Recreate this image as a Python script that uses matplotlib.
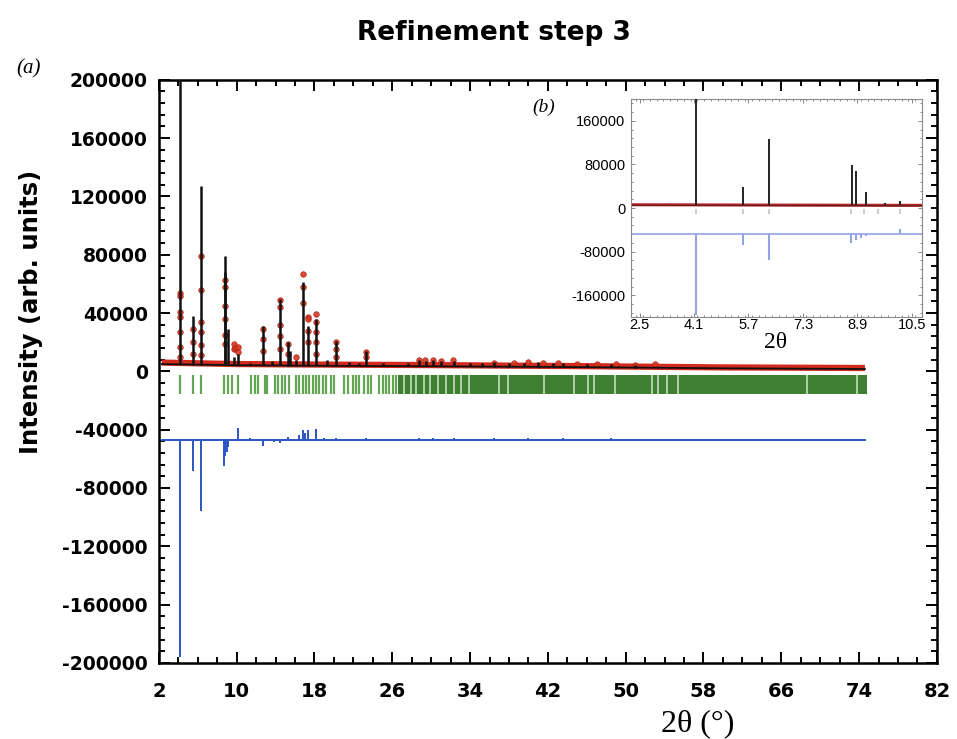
import numpy as np
import matplotlib.pyplot as plt
from matplotlib.ticker import FixedLocator, MultipleLocator

plt.rcParams['font.family'] = 'DejaVu Sans'
plt.rcParams['axes.unicode_minus'] = False

# background of observed (red) and calculated (black) patterns
bg_x = [2.3, 10, 20, 30, 45, 60, 74.6]
obs_bg = [6000, 5000, 4600, 4300, 3600, 2700, 2300]
calc_bg = [5000, 4200, 3800, 3500, 2900, 2100, 1600]

# calculated peaks: 2theta and top intensity
peak_pos = [4.15, 5.55, 6.3, 8.75, 8.85, 9.15, 9.7, 10.15, 11.4, 12.75, 13.6, 14.5,
            15.3, 15.45, 16.1, 16.85, 17.3, 18.2, 19.3, 20.2, 21.6, 22.6, 23.3, 25.0,
            27.6, 28.7, 29.5, 30.2, 31.0, 32.3, 34.0, 35.2, 36.5, 38.0, 39.5, 41.0,
            42.5, 43.6, 46.0, 48.5, 51.0]
peak_calc = [215000, 38000, 127000, 79000, 68000, 29000, 10000, 12000, 6000, 31000, 7000, 49500,
             20000, 14000, 8000, 61000, 31000, 36000, 7500, 20600, 6500, 6000, 13700, 6000,
             6000, 8000, 7000, 7600, 7200, 7000, 5600, 5800, 6200, 6000, 5800, 6200,
             5800, 6000, 5200, 5000, 4600]

# observed points (red dots)
obs_x = [4.15, 4.15, 4.15, 4.15, 4.15, 4.15, 4.15,
         5.55, 5.55, 5.55,
         6.3, 6.3, 6.3, 6.3, 6.3, 6.3,
         8.75, 8.75, 8.75, 8.75, 8.85, 8.85,
         9.7, 9.75, 9.85, 10.15, 10.15,
         12.75, 12.75, 12.75,
         14.5, 14.5, 14.5, 14.5, 14.5,
         15.3, 15.3, 16.1,
         16.85, 16.85, 16.85,
         17.3, 17.35, 17.3, 17.3,
         18.2, 18.2, 18.2, 18.2, 18.2,
         20.2, 20.2, 20.2, 23.3, 23.3,
         28.7, 29.4, 30.2, 31.0, 32.2, 36.5, 38.5, 40.0, 41.5, 43.0, 45.0, 47.0, 49.0, 51.0, 53.0]
obs_y = [54000, 52000, 41000, 37000, 27000, 17000, 10000,
         29000, 20000, 12000,
         79000, 56000, 34000, 27000, 18000, 11000,
         63000, 58000, 36000, 18500, 45000, 25000,
         15000, 18500, 16000, 17000, 13000,
         29000, 22000, 14000,
         49000, 44000, 32000, 24000, 15000,
         19000, 12000, 9600,
         66500, 58000, 47000,
         37000, 36000, 28000, 20000,
         39000, 34000, 27000, 20000, 12000,
         20000, 15000, 10000, 13500, 10000,
         8000, 7500, 7800, 7300, 7500, 6000, 6000, 6200, 6000, 5800, 5200, 5000, 4800, 4600, 4700]

# difference curve
diff_offset = -47000
diff_x = [2.3, 74.6]
diff_pos = [4.15, 5.55, 6.3, 8.7, 8.85, 9.0, 9.15, 10.15, 11.4, 12.75, 13.8, 14.5, 15.3,
            16.4, 16.85, 17.0, 17.3, 18.2, 19.0, 20.2, 23.3, 28.7, 30.2, 32.3, 36.5,
            40.0, 43.6, 48.5, 52.5]
diff_val = [-196000, -68500, -96000, -65000, -58000, -55000, -52000, -39000, -45500, -51500,
            -48500, -49000, -45000, -44000, -40500, -42000, -40000, -39500, -45500, -45800,
            -46000, -46000, -45800, -46000, -46000, -46000, -46000, -46000, -46200]

# Bragg reflection markers
bragg_pos = [4.15, 5.55, 6.3, 8.7, 9.1, 9.5, 10.15, 11.45, 11.85, 12.15, 12.95, 13.15,
             13.95, 14.25, 14.65, 14.95, 15.35, 16.1, 16.45, 16.8, 17.14, 17.48, 17.82,
             18.17, 18.51, 18.85, 19.2, 19.71, 20.05, 21.08, 21.42, 21.93, 22.28, 22.62,
             23.13, 23.47, 23.82, 24.67, 25.01, 25.35, 25.69, 26.03, 26.38]
bragg_band = [26.6, 74.8]
bragg_gaps = [27.2, 27.9, 28.4, 29.3, 29.9, 30.7, 31.5, 32.3, 33.1, 33.9, 37.0, 37.9,
              41.6, 44.7, 46.1, 46.7, 48.9, 52.7, 53.3, 54.2, 55.4, 68.6, 73.8]
bragg_lo, bragg_hi = -15500, -2500

x_ticks = [2, 10, 18, 26, 34, 42, 50, 58, 66, 74, 82]
y_ticks = [-200000, -160000, -120000, -80000, -40000, 0, 40000, 80000, 120000, 160000, 200000]
inset_xticks = [2.5, 4.1, 5.7, 7.3, 8.9, 10.5]
inset_yticks = [-160000, -80000, 0, 80000, 160000]

peak_base = np.interp(peak_pos, bg_x, calc_bg)

fig = plt.figure(figsize=(9.57, 7.39), dpi=100)
ax = fig.add_axes([0.166, 0.103, 0.813, 0.789])

# main pattern
ax.plot(bg_x, obs_bg, color='#d42a1e', lw=4.5, zorder=2, solid_capstyle='butt')
ax.plot(obs_x, obs_y, 'o', ms=4, color='#d6361f', mec='#a82015', mew=0.5, alpha=0.9, zorder=3)
ax.vlines(peak_pos, peak_base, peak_calc, color='#111111', lw=1.8, zorder=4)
ax.plot(bg_x, calc_bg, color='#111111', lw=1.3, zorder=4)

ax.vlines(bragg_pos, bragg_lo, bragg_hi, color='#64a553', lw=1.6)
ax.fill_between(bragg_band, bragg_lo, bragg_hi, color='#3e7f31', lw=0)
ax.vlines(bragg_gaps, bragg_lo, bragg_hi, color='#cfe8c8', lw=1.1)

ax.plot(diff_x, [diff_offset, diff_offset], color='#2c55c4', lw=1.4)
ax.vlines(diff_pos, diff_offset, diff_val, color='#2c55c4', lw=1.4)

ax.set_xlim(2, 82)
ax.set_ylim(-200000, 200000)
ax.xaxis.set_major_locator(FixedLocator(x_ticks))
ax.yaxis.set_major_locator(FixedLocator(y_ticks))
ax.xaxis.set_minor_locator(MultipleLocator(2))
ax.yaxis.set_minor_locator(MultipleLocator(8000))
ax.tick_params(which='both', direction='in', top=True, right=True, width=1.4)
ax.tick_params(which='major', length=8)
ax.tick_params(which='minor', length=4.5)
ax.tick_params(axis='x', pad=14, labelsize=14)
ax.tick_params(axis='y', pad=8, labelsize=13.5)
for lbl in ax.get_xticklabels() + ax.get_yticklabels():
    lbl.set_fontweight('bold')
for s in ax.spines.values():
    s.set_linewidth(1.8)

fig.text(0.516, 0.955, 'Refinement step 3', fontsize=19, fontweight='bold',
         ha='center', va='center')
fig.text(0.0325, 0.578, 'Intensity (arb. units)', fontsize=17.5, fontweight='bold',
         rotation=90, ha='center', va='center')
fig.text(0.729, 0.021, '2θ (°)', family='Liberation Serif', fontsize=23,
         ha='center', va='center')
fig.text(0.03, 0.907, '(a)', family='Liberation Serif', style='italic', fontsize=15,
         ha='center', va='center')

# inset (b)
axi = fig.add_axes([0.6594, 0.571, 0.3041, 0.295])
axi.vlines([p for p in bragg_pos if p < 10.8], -11000, -2000, color='#c4c4c4', lw=1.2)
axi.plot(bg_x, obs_bg, color='#b3262a', lw=2.2, zorder=2)
axi.vlines(peak_pos, peak_base, peak_calc, color='#222222', lw=1.4, zorder=3)
axi.plot(bg_x, calc_bg, color='#6a1a1a', lw=0.8, zorder=3)
axi.plot(diff_x, [diff_offset, diff_offset], color='#94a3e6', lw=1.2)
axi.vlines(diff_pos, diff_offset, diff_val, color='#94a3e6', lw=1.5)

axi.set_xlim(2.25, 10.8)
axi.set_ylim(-200000, 200000)
axi.xaxis.set_major_locator(FixedLocator(inset_xticks))
axi.yaxis.set_major_locator(FixedLocator(inset_yticks))
axi.xaxis.set_minor_locator(MultipleLocator(0.2))
axi.yaxis.set_minor_locator(MultipleLocator(16000))
axi.tick_params(which='both', direction='in', top=True, right=True, color='#888888',
                width=0.7, labelsize=10.5, labelfontfamily='Liberation Sans')
axi.tick_params(which='major', length=3)
axi.tick_params(which='minor', length=1.5)
axi.tick_params(axis='x', pad=1)
axi.tick_params(axis='y', pad=4)
for s in axi.spines.values():
    s.set_color('#8a8a8a')
    s.set_linewidth(0.8)

fig.text(0.81, 0.537, '2θ', family='Liberation Serif', fontsize=17, ha='center', va='center')
fig.text(0.568, 0.855, '(b)', family='Liberation Serif', style='italic', fontsize=14,
         ha='center', va='center')

fig.savefig('out.png', dpi=100)
